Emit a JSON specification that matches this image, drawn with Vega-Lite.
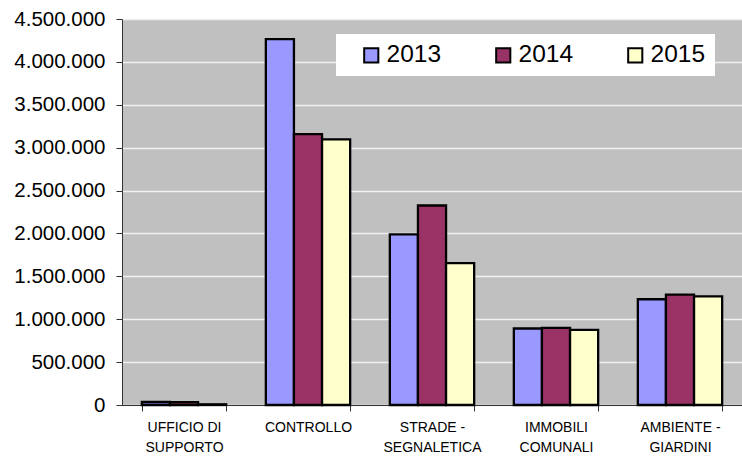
{
  "$schema": "https://vega.github.io/schema/vega-lite/v6.json",
  "width": 620,
  "height": 386,
  "autosize": {"type": "none"},
  "padding": {"left": 122, "top": 19, "right": 0, "bottom": 55},
  "background": "white",
  "config": {
    "locale": {"number": {"decimal": ",", "thousands": ".", "grouping": [3], "currency": ["€", ""]}},
    "font": "Liberation Sans",
    "view": {"fill": "#C0C0C0", "stroke": null}
  },
  "data": {
    "values": [
      {"area": "UFFICIO DI SUPPORTO", "anno": "2013", "valore": 35000},
      {"area": "UFFICIO DI SUPPORTO", "anno": "2014", "valore": 33000},
      {"area": "UFFICIO DI SUPPORTO", "anno": "2015", "valore": 8000},
      {"area": "CONTROLLO", "anno": "2013", "valore": 4265000},
      {"area": "CONTROLLO", "anno": "2014", "valore": 3159000},
      {"area": "CONTROLLO", "anno": "2015", "valore": 3097000},
      {"area": "STRADE - SEGNALETICA", "anno": "2013", "valore": 1988000},
      {"area": "STRADE - SEGNALETICA", "anno": "2014", "valore": 2326000},
      {"area": "STRADE - SEGNALETICA", "anno": "2015", "valore": 1655000},
      {"area": "IMMOBILI COMUNALI", "anno": "2013", "valore": 892000},
      {"area": "IMMOBILI COMUNALI", "anno": "2014", "valore": 899000},
      {"area": "IMMOBILI COMUNALI", "anno": "2015", "valore": 876000},
      {"area": "AMBIENTE - GIARDINI", "anno": "2013", "valore": 1233000},
      {"area": "AMBIENTE - GIARDINI", "anno": "2014", "valore": 1287000},
      {"area": "AMBIENTE - GIARDINI", "anno": "2015", "valore": 1267000}
    ]
  },
  "mark": {"type": "bar", "stroke": "black", "strokeWidth": 2.3},
  "encoding": {
    "x": {
      "field": "area",
      "type": "nominal",
      "sort": null,
      "scale": {"paddingInner": 0.32, "paddingOuter": 0.16},
      "axis": {
        "title": null,
        "labelAngle": 0,
        "labelFontSize": 14,
        "labelColor": "black",
        "labelPadding": 9,
        "labelLineHeight": 20,
        "labelExpr": "indexof(datum.label, ' ') < 0 ? datum.label : [slice(datum.label, 0, lastindexof(datum.label, ' ')), slice(datum.label, lastindexof(datum.label, ' ') + 1)]",
        "tickBand": "extent",
        "tickSize": 6,
        "tickColor": "#333333",
        "domainColor": "#333333",
        "labelLimit": 200
      }
    },
    "xOffset": {"field": "anno", "type": "nominal", "scale": {"paddingInner": 0, "paddingOuter": 0}},
    "y": {
      "field": "valore",
      "type": "quantitative",
      "scale": {"domain": [0, 4500000], "nice": false},
      "axis": {
        "title": null,
        "values": [0, 500000, 1000000, 1500000, 2000000, 2500000, 3000000, 3500000, 4000000, 4500000],
        "format": ",d",
        "labelFontSize": 20.5,
        "labelColor": "black",
        "labelPadding": 11,
        "tickSize": 6,
        "tickColor": "#333333",
        "domainColor": "#333333",
        "gridColor": "#F0F0F0",
        "gridWidth": 1.5,
        "gridOpacity": 1
      }
    },
    "fill": {
      "field": "anno",
      "type": "nominal",
      "scale": {"domain": ["2013", "2014", "2015"], "range": ["#9999FF", "#993366", "#FFFFCC"]},
      "legend": {
        "title": null,
        "orient": "none",
        "legendX": 214,
        "legendY": 15,
        "direction": "horizontal",
        "columns": 3,
        "fillColor": "white",
        "padding": 9,
        "symbolType": "square",
        "symbolSize": 200,
        "symbolStrokeColor": "black",
        "symbolStrokeWidth": 2,
        "symbolOpacity": 1,
        "labelFontSize": 24.5,
        "labelColor": "black",
        "labelOffset": 3,
        "columnPadding": 35,
        "symbolOffset": 14
      }
    }
  }
}
